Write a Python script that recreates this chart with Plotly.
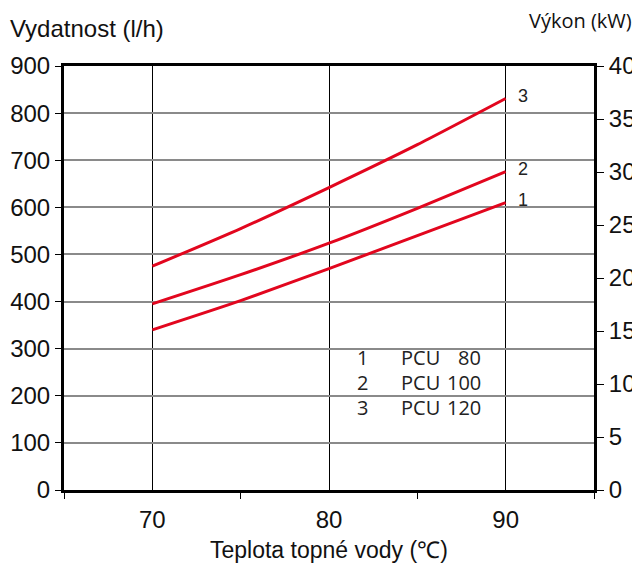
import plotly.graph_objects as go

# ---- data ----
temps = [70, 75, 80, 85, 90]
pcu80 = [340, 402, 470, 540, 610]
pcu100 = [395, 457, 524, 598, 676]
pcu120 = [475, 555, 642, 733, 831]
curve_ids = ["1", "2", "3"]
model_names = ["PCU", "PCU", "PCU"]
model_sizes = ["80", "100", "120"]
x_ticks = [70, 80, 90]
x_minor_ticks = [65, 75, 85, 95]
y_left_ticks = [0, 100, 200, 300, 400, 500, 600, 700, 800, 900]
y_right_ticks = [0, 5, 10, 15, 20, 25, 30, 35, 40]

RED = "#e2061e"
AX_FONT = dict(family="Liberation Sans, Arial", size=24, color="#111111")
ALT_FONT = "Open Sans, Noto Sans"

fig = go.Figure()
for ys in (pcu80, pcu100, pcu120):
    fig.add_trace(go.Scatter(x=temps, y=ys, mode="lines",
                             line=dict(color=RED, width=3, shape="spline", smoothing=0.6),
                             showlegend=False, hoverinfo="skip"))
# dummy trace for right axis
fig.add_trace(go.Scatter(x=[None], y=[None], yaxis="y2", showlegend=False))

# end labels
for cid, ys in zip(curve_ids, (pcu80, pcu100, pcu120)):
    fig.add_annotation(x=temps[-1], y=ys[-1], text=cid, showarrow=False,
                       xanchor="left", yanchor="middle", xshift=10, yshift=3,
                       font=dict(family="Liberation Sans, Arial", size=18, color="#222"))

# legend box (white background interrupting gridlines)
fig.add_shape(type="rect", xref="paper", yref="paper",
              x0=(355 - 64) / 530, x1=(505 - 64) / 530,
              y0=(490 - 422) / 424, y1=(490 - 340) / 424,
              fillcolor="white", line=dict(width=0), layer="between")

row_y = [357, 382, 407]
for cid, nm, sz, py in zip(curve_ids, model_names, model_sizes, row_y):
    yy = (490 - py) / 424
    fig.add_annotation(xref="paper", yref="paper", x=(362 - 64) / 530, y=yy, text=cid,
                       showarrow=False, xanchor="center", yanchor="middle",
                       font=dict(family=ALT_FONT, size=20, color="#222"))
    fig.add_annotation(xref="paper", yref="paper", x=(399 - 64) / 530, y=yy, text=nm,
                       showarrow=False, xanchor="left", yanchor="middle",
                       font=dict(family=ALT_FONT, size=20, color="#222"))
    fig.add_annotation(xref="paper", yref="paper", x=(483 - 64) / 530, y=yy, text=sz,
                       showarrow=False, xanchor="right", yanchor="middle",
                       font=dict(family=ALT_FONT, size=20, color="#222"))

# axis titles
fig.add_annotation(xref="paper", yref="paper", x=0, y=1, xshift=-56, yshift=38,
                   xanchor="left", yanchor="middle", text="Vydatnost (l/h)",
                   showarrow=False, font=dict(family="Liberation Sans, Arial", size=24, color="#111"))
fig.add_annotation(xref="paper", yref="paper", x=1, y=1, xshift=40, yshift=46,
                   xanchor="right", yanchor="middle", text="Výkon (kW)",
                   showarrow=False, font=dict(family=ALT_FONT, size=20, color="#111"))
fig.add_annotation(xref="paper", yref="paper", x=0.5, y=0, yshift=-60,
                   xanchor="center", yanchor="middle", text="Teplota topné vody (℃)",
                   showarrow=False, font=dict(family="Liberation Sans, Arial", size=23, color="#111"))

# page has an 8px body margin, so the figure is sized to fit the remaining window
fig.update_layout(
    width=632, height=557,
    margin=dict(l=56, r=46, t=58, b=75, autoexpand=False),
    paper_bgcolor="white", plot_bgcolor="white",
    xaxis=dict(range=[65, 95], tickvals=x_ticks, ticktext=[str(v) for v in x_ticks],
               ticks="", showgrid=True, gridcolor="#000000", gridwidth=1,
               showline=True, linecolor="black", linewidth=3, mirror=True,
               zeroline=False, tickfont=AX_FONT, ticklabelstandoff=6, automargin=False,
               minor=dict(tickvals=x_minor_ticks, ticks="outside", ticklen=6,
                          tickcolor="black", tickwidth=1, showgrid=False)),
    yaxis=dict(range=[0, 900], tickvals=y_left_ticks, ticks="outside", ticklen=6,
               tickcolor="black", showgrid=True, gridcolor="#8a8a8a", gridwidth=1.5,
               showline=True, linecolor="black", linewidth=3, zeroline=False,
               tickfont=AX_FONT, automargin=False),
    yaxis2=dict(range=[0, 40], tickvals=y_right_ticks, overlaying="y", side="right",
                ticks="outside", ticklen=7, tickcolor="black", showgrid=False,
                showline=True, linecolor="black", linewidth=3, zeroline=False,
                tickfont=AX_FONT, automargin=False),
)

fig.write_html("out.html")
